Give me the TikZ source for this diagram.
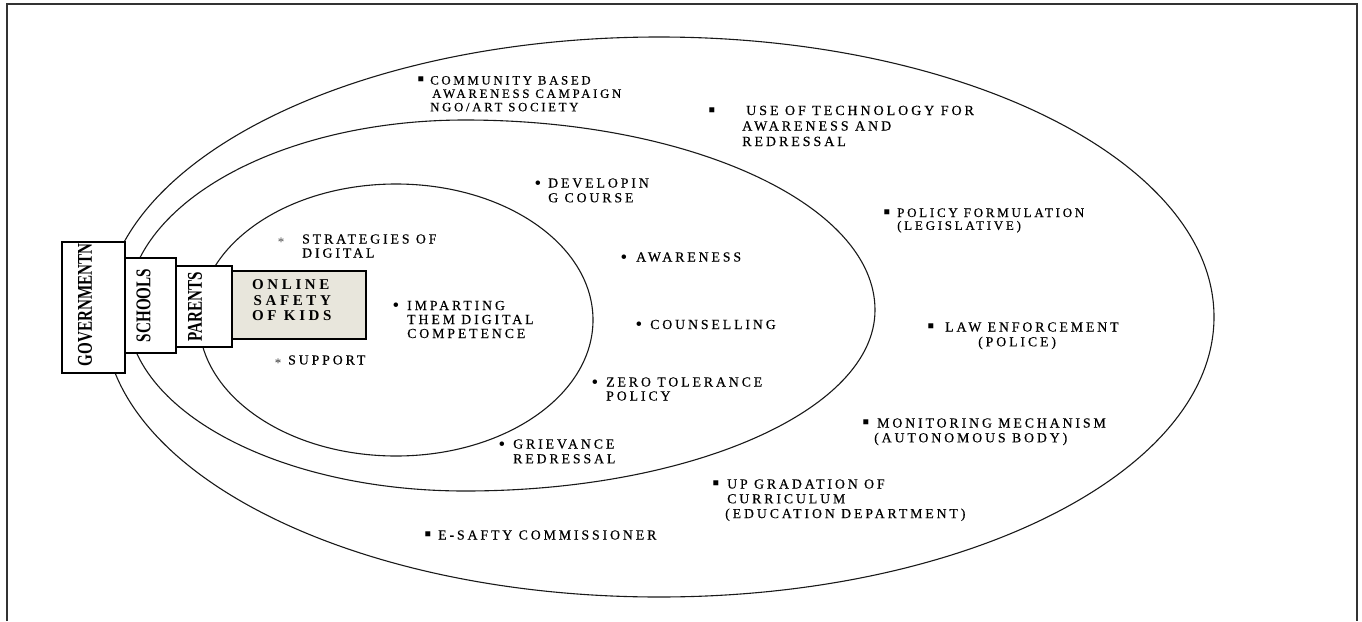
\documentclass[tikz,border=0pt]{standalone}
\usepackage{fontspec}
\setmainfont{Liberation Serif}
\newfontfamily\itemfont[LetterSpace=21,FakeBold=0.35]{Liberation Serif}
\newfontfamily\kidsfont[LetterSpace=24]{Liberation Serif}
\newfontfamily\condfont[FakeStretch=0.72]{Liberation Serif}
\definecolor{kidsfill}{HTML}{E8E6DC}
\begin{document}
\begin{tikzpicture}[x=1pt,y=-1pt,
  ring/.style={draw=black!90, line width=1.1pt},
  frameline/.style={draw=black!80, line width=1.8pt},
  lblbox/.style={draw, line width=1.3pt, fill=white, inner sep=0pt},
  kidsbox/.style={lblbox, fill=kidsfill},
  vlabel/.style={rotate=90, inner sep=0pt, font=\condfont\bfseries\fontsize{21}{21}\selectfont},
  itemtext/.style={anchor=base west, inner sep=0pt, font=\itemfont\fontsize{13.8}{14.8}\selectfont},
  bulletmark/.style={anchor=base, inner sep=0pt, font=\fontsize{19}{19}\selectfont},
  sqmark/.style={anchor=base, inner sep=0pt, font=\fontsize{20}{20}\selectfont}]
\useasboundingbox (0,0) rectangle (1362,621);
\fill[white] (0,0) rectangle (1362,621);
% frame
\coordinate (fbl) at (7,621);
\coordinate (ftl) at (7,4);
\coordinate (ftr) at (1357,4);
\coordinate (fbr) at (1357,621);
\draw[frameline] (fbl) -- (ftl) -- (ftr) -- (fbr);
% rings
\draw[ring] (659,317) ellipse [x radius=555, y radius=280];
\coordinate (midleft) at (127,310);
\draw[ring] (midleft)
  arc[start angle=180, end angle=270, x radius=338, y radius=190]
  arc[start angle=270, end angle=360, x radius=410, y radius=190]
  arc[start angle=0, end angle=90, x radius=410, y radius=181]
  arc[start angle=90, end angle=180, x radius=338, y radius=181] -- cycle;
\draw[ring] (396,320) ellipse [x radius=197, y radius=136];
% boxes
\node[lblbox, minimum width=63pt, minimum height=131pt] (govbox) at (93.5,307.5) {};
\node[lblbox, minimum width=51pt, minimum height=95pt] (schbox) at (150.5,305.5) {};
\node[lblbox, minimum width=56pt, minimum height=81pt] (parbox) at (204,306.5) {};
\node[kidsbox, minimum width=134pt, minimum height=68pt] (kidsbox) at (299,305) {};
\node[vlabel] (govl) at (85,305) {GOVERNMENTN};
\node[vlabel] (schl) at (143.5,305.5) {SCHOOLS};
\node[vlabel] (parl) at (195,307) {PARENTS};
\node[anchor=base west, inner sep=0pt, font=\kidsfont\bfseries\fontsize{15}{15.5}\selectfont] (kidsl) at (252,289.5)
  {\begin{tabular}[t]{@{}l@{}}ONLINE\\\hspace*{1.5pt}SAFETY\\OF KIDS\end{tabular}};
% outer ring items
\node[sqmark] (b1) at (421,85) {▪};
\node[itemtext, font=\itemfont\fontsize{12.8}{13.4}\selectfont] (t1) at (430,84.5)
  {\begin{tabular}[t]{@{}l@{}}COMMUNITY BASED\\\hspace*{2pt}AWARENESS CAMPAIGN\\NGO/ART SOCIETY\end{tabular}};
\node[sqmark] (b2) at (712,116) {▪};
\node[itemtext, font=\itemfont\fontsize{14}{15.5}\selectfont] (t2) at (746,115)
  {\begin{tabular}[t]{@{}l@{}}USE OF TECHNOLOGY FOR\\\hspace*{-4pt}AWARENESS AND\\\hspace*{-4pt}REDRESSAL\end{tabular}};
\node[sqmark] (b3) at (887,218) {▪};
\node[itemtext, font=\itemfont\fontsize{13}{12.8}\selectfont] (t3) at (897,217)
  {\begin{tabular}[t]{@{}l@{}}POLICY FORMULATION\\(LEGISLATIVE)\end{tabular}};
\node[sqmark] (b4) at (931,332.5) {▪};
\node[itemtext] (t4) at (945,331.5)
  {\begin{tabular}[t]{@{}l@{}}LAW ENFORCEMENT\\\hspace*{33pt}(POLICE)\end{tabular}};
\node[sqmark] (b5) at (866,428.5) {▪};
\node[itemtext] (t5) at (877,427.5)
  {\begin{tabular}[t]{@{}l@{}}MONITORING MECHANISM\\\hspace*{-3pt}(AUTONOMOUS BODY)\end{tabular}};
\node[sqmark] (b6) at (716,489.5) {▪};
\node[itemtext] (t6) at (727,488.5)
  {\begin{tabular}[t]{@{}l@{}}UP GRADATION OF\\CURRICULUM\\\hspace*{-2pt}(EDUCATION DEPARTMENT)\end{tabular}};
\node[sqmark] (b7) at (428,540.5) {▪};
\node[itemtext] (t7) at (438,539.5) {E-SAFTY COMMISSIONER};
% middle ring items
\node[bulletmark] (b8) at (538,189) {•};
\node[itemtext] (t8) at (548,187.5)
  {\begin{tabular}[t]{@{}l@{}}DEVELOPIN\\G COURSE\end{tabular}};
\node[bulletmark] (b9) at (624,263) {•};
\node[itemtext] (t9) at (636,261.5) {AWARENESS};
\node[bulletmark] (b10) at (639,330.5) {•};
\node[itemtext] (t10) at (650,329) {COUNSELLING};
\node[bulletmark] (b11) at (595,388) {•};
\node[itemtext, font=\itemfont\fontsize{13.8}{14}\selectfont] (t11) at (606,386.5)
  {\begin{tabular}[t]{@{}l@{}}ZERO TOLERANCE\\POLICY\end{tabular}};
\node[bulletmark] (b12) at (502,450) {•};
\node[itemtext] (t12) at (513,448.5)
  {\begin{tabular}[t]{@{}l@{}}GRIEVANCE\\REDRESSAL\end{tabular}};
% inner ring items
\node[anchor=base, inner sep=0pt, text=black!70, font=\fontsize{13}{13}\selectfont] (b13) at (281,246) {*};
\node[itemtext, font=\itemfont\fontsize{13.8}{14}\selectfont] (t13) at (302,243.5)
  {\begin{tabular}[t]{@{}l@{}}STRATEGIES OF\\DIGITAL\end{tabular}};
\node[bulletmark] (b14) at (396,311.5) {•};
\node[itemtext, font=\itemfont\fontsize{13.8}{14}\selectfont] (t14) at (407,310)
  {\begin{tabular}[t]{@{}l@{}}IMPARTING\\THEM DIGITAL\\COMPETENCE\end{tabular}};
\node[anchor=base, inner sep=0pt, text=black!80, font=\fontsize{13}{13}\selectfont] (b15) at (278,367) {*};
\node[itemtext] (t15) at (288,364.5) {SUPPORT};
\end{tikzpicture}
\end{document}
